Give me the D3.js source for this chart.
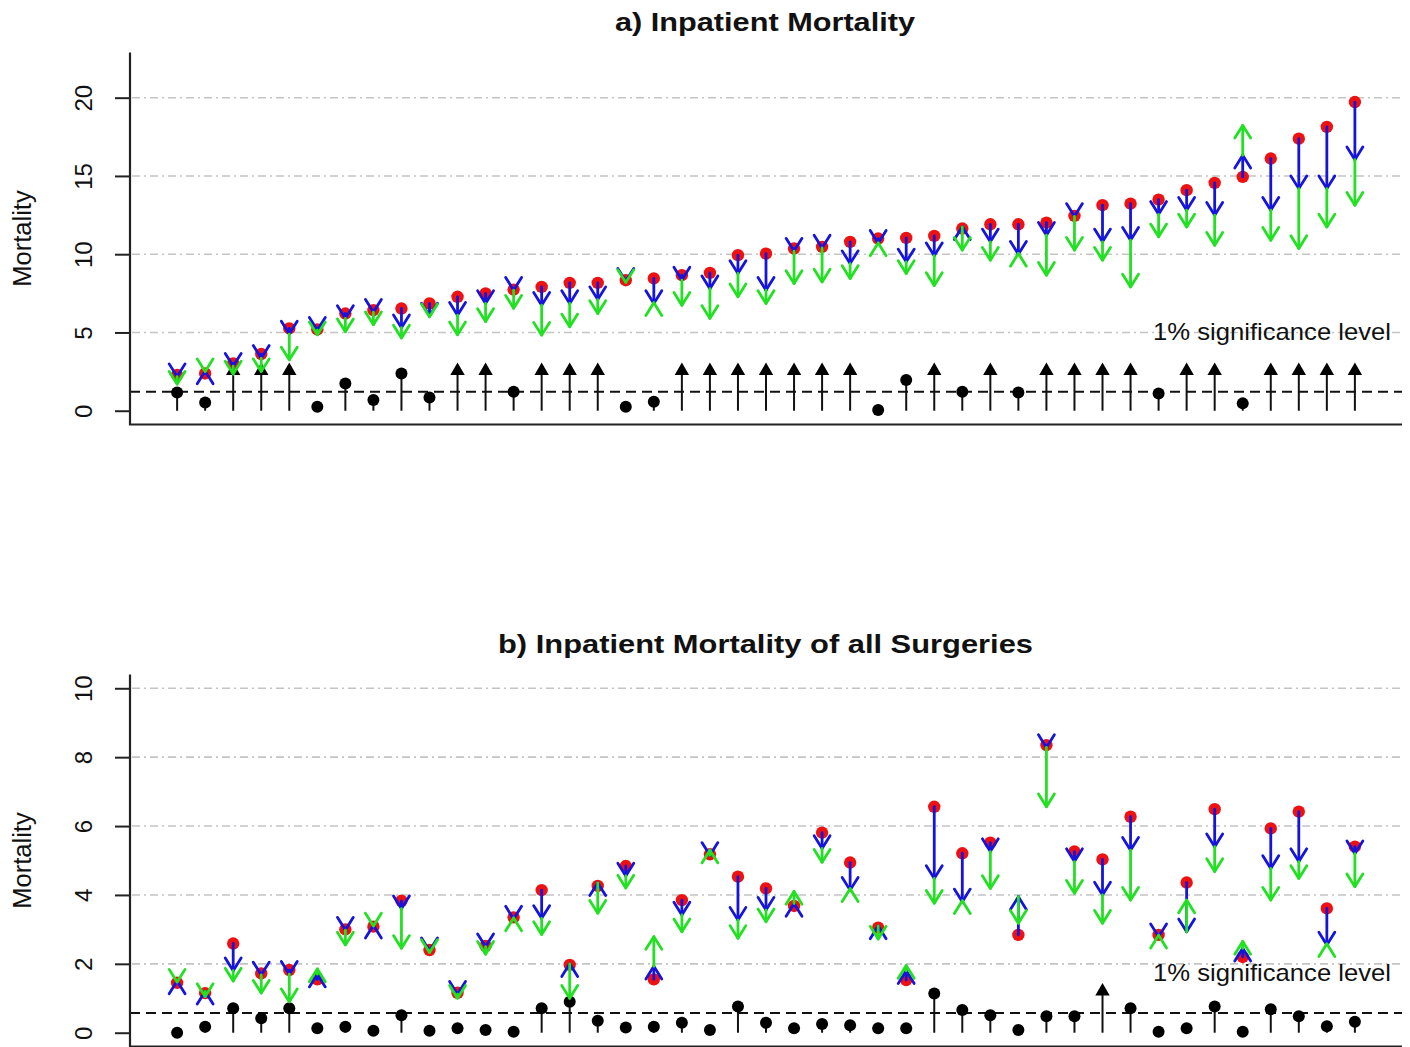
<!DOCTYPE html>
<html>
<head>
<meta charset="utf-8">
<script src="https://cdn.jsdelivr.net/npm/d3@7"></script>
<style>
  body { margin: 0; background: #fff; }
  svg { display: block; }
  text { font-family: "Liberation Sans", Arial, Helvetica, sans-serif; fill: #111; }
</style>
</head>
<body>
<svg id="chart" width="1410" height="1047"></svg>
<script>
// ---- data ----
// each category: observed (red) -> blue arrow end -> green arrow end
// sig: black lollipops; null = beyond the scale, drawn as a capped arrow
const index = d3.range(1, 44)

const obsA = [2.28, 2.38, 3.02, 3.62, 5.26, 5.19, 6.21, 6.43, 6.53, 6.85, 7.28, 7.49, 7.74, 7.91, 8.17, 8.17, 8.34, 8.45, 8.66, 8.81, 9.94, 10.04, 10.36, 10.47, 10.79, 11.0, 11.04, 11.17, 11.64, 11.91, 11.91, 12.02, 12.45, 13.13, 13.23, 13.49, 14.09, 14.55, 14.94, 16.11, 17.38, 18.13, 19.72]
const blueA = [2.18, 2.53, 2.85, 3.35, 4.9, 5.15, 5.9, 6.3, 5.3, 6.05, 6.1, 6.85, 7.7, 6.74, 6.85, 7.1, 8.28, 6.85, 8.35, 7.8, 8.77, 7.7, 10.2, 10.4, 9.4, 10.7, 9.51, 9.9, 11.75, 10.79, 10.0, 11.21, 12.42, 10.79, 10.89, 12.55, 12.81, 12.49, 16.32, 12.81, 14.19, 14.19, 16.04]
const greenA = [1.7, 2.5, 2.35, 2.5, 3.25, 4.85, 5.05, 5.5, 4.65, 6.0, 4.85, 5.7, 6.55, 4.83, 5.36, 6.21, 8.2, 6.9, 6.74, 5.9, 7.28, 6.85, 8.13, 8.23, 8.45, 10.72, 8.77, 8.0, 10.26, 9.62, 10.05, 8.66, 10.26, 9.62, 7.91, 11.11, 11.74, 10.57, 18.23, 10.89, 10.36, 11.74, 13.13]
const sigA = [1.17, 0.53, null, null, null, 0.26, 1.74, 0.68, 2.38, 0.85, null, null, 1.21, null, null, null, 0.26, 0.57, null, null, null, null, null, null, null, 0.04, 1.96, null, 1.21, null, 1.17, null, null, null, null, 1.1, null, null, 0.47, null, null, null, null]

const obsB = [1.45, 1.15, 2.59, 1.72, 1.82, 1.55, 3.0, 3.08, 3.83, 2.4, 1.16, 2.52, 3.35, 4.14, 1.97, 4.26, 4.84, 1.55, 3.85, 5.18, 4.53, 4.19, 3.68, 5.81, 4.94, 3.05, 1.53, 6.56, 5.21, 5.52, 2.84, 8.35, 5.26, 5.03, 6.27, 2.84, 4.36, 6.49, 2.2, 5.93, 6.42, 3.61, 5.4]
const blueB = [1.5, 1.2, 1.8, 1.68, 1.7, 1.7, 2.98, 3.12, 3.6, 2.38, 1.12, 2.5, 3.3, 3.32, 2.0, 4.35, 4.55, 1.93, 3.42, 5.15, 3.27, 3.56, 3.75, 5.35, 4.14, 3.1, 1.8, 4.48, 3.8, 5.26, 3.95, 8.28, 4.97, 4.0, 5.3, 2.79, 2.93, 5.4, 2.45, 4.77, 4.97, 2.55, 5.2]
const greenB = [1.47, 1.05, 1.5, 1.15, 0.9, 1.85, 2.55, 3.1, 2.45, 2.33, 1.0, 2.28, 3.33, 2.85, 1.0, 3.47, 4.2, 2.79, 2.93, 5.3, 2.74, 3.22, 4.1, 4.95, 4.18, 2.72, 1.95, 3.76, 3.83, 4.19, 3.18, 6.56, 4.05, 3.18, 3.85, 2.83, 3.85, 4.68, 2.65, 3.85, 4.48, 2.58, 4.24]
const sigB = [0.0, 0.17, 0.71, 0.42, 0.71, 0.13, 0.17, 0.06, 0.51, 0.06, 0.13, 0.08, 0.03, 0.71, 0.9, 0.35, 0.15, 0.17, 0.29, 0.08, 0.76, 0.29, 0.13, 0.25, 0.22, 0.13, 0.13, 1.14, 0.66, 0.51, 0.08, 0.48, 0.48, null, 0.71, 0.03, 0.13, 0.76, 0.03, 0.68, 0.48, 0.19, 0.32]

const ticksA = [0, 5, 10, 15, 20]
const ticksB = [0, 2, 4, 6, 8, 10]
const gridA = [5, 10, 15, 20]
const gridB = [2, 4, 6, 8, 10]

const svg = d3.select("#chart")

// R-style 4% axis extension
function ext(lim) {
  const d = (lim[1] - lim[0]) * 0.04
  return [lim[0] - d, lim[1] + d]
}

function arrow(g, x, y, i, y0, y1, color) {
  const X = x(i), Y0 = y(y0), Y1 = y(y1)
  const dir = y1 >= y0 ? 1 : -1   // 1 = pointing up on screen
  const L = 15, a = 32 * Math.PI / 180
  g.append("line").attr("x1", X).attr("x2", X).attr("y1", Y0).attr("y2", Y1)
    .attr("stroke", color).attr("stroke-width", 2.8).attr("stroke-linecap", "round")
  const hy = Y1 + dir * L * Math.cos(a)
  g.append("path")
    .attr("d", `M${X - L * Math.sin(a)},${hy}L${X},${Y1}L${X + L * Math.sin(a)},${hy}`)
    .attr("fill", "none").attr("stroke", color).attr("stroke-width", 2.8)
    .attr("stroke-linecap", "round").attr("stroke-linejoin", "round")
}

function panel(cfg) {
  const x = d3.scaleLinear().domain(ext([1, 43])).range([130, 1402])
  const y = d3.scaleLinear().domain(ext(cfg.ylim)).range([cfg.bottom, cfg.top])
  const g = svg.append("g")

  // grid
  g.selectAll(".grid").data(cfg.grid).join("line")
    .attr("x1", 132).attr("x2", 1402)
    .attr("y1", d => y(d)).attr("y2", d => y(d))
    .attr("stroke", "#c4c4c4").attr("stroke-width", 1.6)
    .attr("stroke-dasharray", "8,4,2,4")

  // significance label
  g.append("text").attr("x", 1153).attr("y", y(cfg.labelY))
    .attr("font-size", 24).attr("textLength", 238).attr("lengthAdjust", "spacingAndGlyphs")
    .attr("fill", "#222")
    .text("1% significance level")

  // threshold line
  g.append("line").attr("x1", 130).attr("x2", 1402)
    .attr("y1", y(cfg.thresh)).attr("y2", y(cfg.thresh))
    .attr("stroke", "#111").attr("stroke-width", 2).attr("stroke-dasharray", "10,6")

  // black lollipops
  index.forEach((d, k) => {
    const v = cfg.sig[k]
    const top = v === null ? cfg.cap : v
    g.append("line").attr("x1", x(d)).attr("x2", x(d))
      .attr("y1", y(0)).attr("y2", y(top))
      .attr("stroke", "#111").attr("stroke-width", 2)
    if (v === null) {
      g.append("path").attr("d", d3.symbol(d3.symbolTriangle, 90)())
        .attr("transform", `translate(${x(d)},${y(cfg.cap)})`).attr("fill", "#000")
    } else {
      g.append("circle").attr("cx", x(d)).attr("cy", y(v)).attr("r", 6).attr("fill", "#000")
    }
  })

  // observed
  g.selectAll(".obs").data(index).join("circle")
    .attr("cx", d => x(d)).attr("cy", (d, k) => y(cfg.obs[k]))
    .attr("r", 6.2).attr("fill", "#ee1111")

  index.forEach((d, k) => arrow(g, x, y, d, cfg.obs[k], cfg.blue[k], "#1414dc"))
  index.forEach((d, k) => arrow(g, x, y, d, cfg.blue[k], cfg.green[k], "#22e022"))

  // axes (L-shaped box)
  g.append("path")
    .attr("d", `M130,${cfg.top}V${cfg.bottom}H1402`)
    .attr("fill", "none").attr("stroke", "#222").attr("stroke-width", 2.2)

  const ax = g.append("g").attr("transform", "translate(130,0)")
    .call(d3.axisLeft(y).tickValues(cfg.ticks).tickSize(15).tickPadding(6).tickFormat(d3.format("d")))
  ax.select(".domain").remove()
  ax.selectAll(".tick line").attr("stroke", "#222").attr("stroke-width", 2)
  ax.selectAll(".tick text")
    .attr("font-size", 24).attr("font-family", "Liberation Sans, Arial, sans-serif")
    .attr("fill", "#111")
    .attr("text-anchor", "middle")
    .attr("x", 0).attr("dy", 0)
    .attr("transform", "translate(-38,0) rotate(-90)")

  g.append("text")
    .attr("transform", `translate(31,${(cfg.top + cfg.bottom) / 2}) rotate(-90)`)
    .attr("text-anchor", "middle").attr("font-size", 25.5)
    .text("Mortality")

  g.append("text").attr("x", cfg.titleX).attr("y", cfg.titleY)
    .attr("font-size", 26).attr("font-weight", "bold")
    .attr("textLength", cfg.titleW).attr("lengthAdjust", "spacingAndGlyphs")
    .text(cfg.title)
}

panel({
  title: "a) Inpatient Mortality", titleX: 615, titleY: 31, titleW: 300,
  ylim: [0, 22], top: 52.6, bottom: 424.5,
  ticks: ticksA, grid: gridA,
  obs: obsA, blue: blueA, green: greenA, sig: sigA,
  thresh: 1.21, cap: 2.55, labelY: 4.5
})

panel({
  title: "b) Inpatient Mortality of all Surgeries", titleX: 498, titleY: 653, titleW: 535,
  ylim: [0, 10], top: 674.5, bottom: 1046.5,
  ticks: ticksB, grid: gridB,
  obs: obsB, blue: blueB, green: greenB, sig: sigB,
  thresh: 0.57, cap: 1.2, labelY: 1.5
})
</script>
</body>
</html>
